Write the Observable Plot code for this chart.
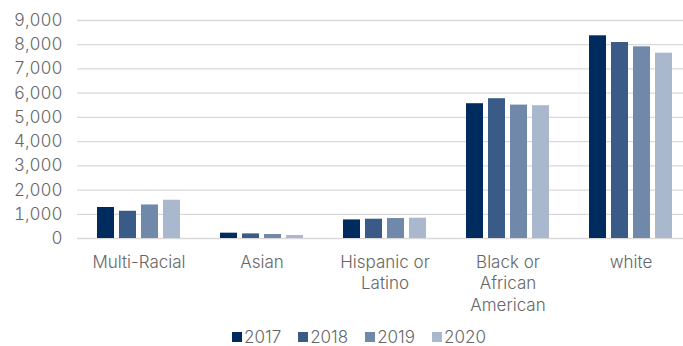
<!DOCTYPE html>
<html>
<head>
<meta charset="utf-8">
<script src="https://cdn.jsdelivr.net/npm/d3@7"></script>
<script src="https://cdn.jsdelivr.net/npm/@observablehq/plot@0.6"></script>
<style>
  html, body { margin: 0; padding: 0; background: #fff; }
  #chart { width: 683px; }
  .legend { display: flex; align-items: center; height: 33px; padding-left: 232px; font-family: Inter, "Liberation Sans", sans-serif; font-weight: 300; font-size: 17px; color: #666; }
  .legend .item { display: flex; align-items: center; margin-right: 17px; }
  .legend .sw { width: 10px; height: 10px; margin-right: 2px; }
  svg text { font-weight: 300; }
</style>
</head>
<body>
<div id="chart"></div>
<script>
const categories = ["Multi-Racial", "Asian", "Hispanic or Latino", "Black or African American", "white"];
const categoryLabels = ["Multi-Racial", "Asian", "Hispanic or\nLatino", "Black or\nAfrican\nAmerican", "white"];
const years = ["2017", "2018", "2019", "2020"];
const v2017 = [1280, 220, 767, 5565, 8368];
const v2018 = [1125, 190, 796, 5771, 8092];
const v2019 = [1385, 165, 824, 5507, 7914];
const v2020 = [1580, 124, 837, 5482, 7651];
const yTicks = [0, 1000, 2000, 3000, 4000, 5000, 6000, 7000, 8000, 9000];
const colors = ["#002b5e", "#3a5a87", "#7089aa", "#a9b8cc"];

const series = [v2017, v2018, v2019, v2020];
const data = [];
categories.forEach((c, i) => {
  years.forEach((y, j) => data.push({category: c, year: y, value: series[j][i]}));
});

const chart = Plot.plot({
  width: 683,
  height: 320,
  marginLeft: 77,
  marginRight: -9,
  marginTop: 20,
  marginBottom: 82,
  style: {fontFamily: "Inter, 'Liberation Sans', sans-serif", fontSize: "17px", color: "#666", background: "#fff"},
  fx: {domain: categories, padding: 0, label: null},
  x: {domain: years, paddingInner: 0.244, paddingOuter: 0.855, axis: null},
  y: {domain: [0, 9000]},
  color: {domain: years, range: colors},
  marks: [
    Plot.gridY({ticks: yTicks, stroke: "#d9d9d9", strokeOpacity: 1, strokeWidth: 1.3}),
    Plot.axisY({ticks: yTicks, tickSize: 0, tickPadding: 15, tickFormat: d3.format(","), label: null, fontSize: 17}),
    Plot.barY(data, {fx: "category", x: "year", y: "value", fill: "year"}),
    Plot.axisFx({anchor: "bottom", tickSize: 0, tickPadding: 14, label: null, fontSize: 17, lineHeight: 1.27,
      tickFormat: d => categoryLabels[categories.indexOf(d)]})
  ]
});
document.getElementById("chart").appendChild(chart);

const legend = document.createElement("div");
legend.className = "legend";
years.forEach((y, j) => {
  const item = document.createElement("div");
  item.className = "item";
  const sw = document.createElement("span");
  sw.className = "sw";
  sw.style.background = colors[j];
  const t = document.createElement("span");
  t.textContent = y;
  item.appendChild(sw);
  item.appendChild(t);
  legend.appendChild(item);
});
document.getElementById("chart").appendChild(legend);
</script>
</body>
</html>
